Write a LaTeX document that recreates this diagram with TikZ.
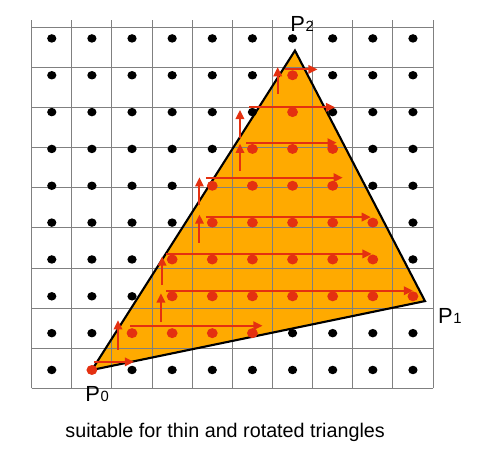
\documentclass[tikz,border=0pt]{standalone}
\usepackage{fontspec}
\setmainfont{Liberation Sans}
\usepackage{tikz}
\usetikzlibrary{arrows.meta}

\definecolor{triorange}{RGB}{255,170,0}
\definecolor{scanred}{RGB}{228,48,16}
\newcommand{\vsub}[1]{{\fontsize{10.5}{10.5}\selectfont\kern0.5pt #1}}

\begin{document}
\begin{tikzpicture}[x=1cm, y=0.918cm,
    gridline/.style={line width=0.7pt, black!50},
    pixdot/.style={fill=black},
    hitdot/.style={fill=scanred},
    scan/.style={scanred, line width=1.4pt, -{Triangle[length=6.5pt,width=6pt]}},
    lbl/.style={inner sep=0pt, font=\fontsize{15.5}{15.5}\selectfont}]
        % Margenes de la imagen
        \useasboundingbox (-0.79,-1.784) rectangle (11.42,10.543);

        % Vertices del triangulo
        \coordinate (P0) at (1.5,0.5);
        \coordinate (P1) at (9.80,2.37);
        \coordinate (P2) at (6.56,9.17);

        % Relleno del triangulo y rejilla de pixeles encima
        \fill[triorange] (P0) -- (P1) -- (P2) -- cycle;
        \draw[gridline] (0,0) grid (10,10);
        \draw[line width=1.5pt, line join=miter] (P0) -- (P1) -- (P2) -- cycle;

        % Centros de pixel
        \foreach \x in {0,...,9}
            \foreach \y in {0,...,9}
                \fill[pixdot] (\x+0.5,\y+0.5) circle (0.115);

        % Pixeles cubiertos (fila/primera/ultima columna)
        \foreach \r/\a/\b in {0/1/1, 1/2/5, 2/3/9, 3/3/8, 4/4/8, 5/4/7, 6/5/7, 7/6/6, 8/6/6}
            \foreach \c in {\a,...,\b}
                \fill[hitdot] (\c+0.5,\r+0.5) circle (0.135);

        % Recorrido horizontal de cada fila
        \foreach \y/\xa/\xb in {0.72/1.55/2.55, 1.70/2.45/5.75, 2.65/3.35/9.50,
                                3.65/3.35/8.47, 4.65/4.34/8.45, 5.72/4.34/7.75,
                                6.67/5.34/7.60, 7.63/5.42/7.56, 8.66/6.31/7.12}
            \draw[scan] (\xa,\y) -- (\xb,\y);

        % Subida a la fila siguiente por el borde izquierdo
        \foreach \x/\ya/\yb in {2.15/1.05/1.85, 3.22/1.80/2.58, 3.25/2.80/3.58,
                                4.18/3.96/4.72, 4.18/4.98/5.73, 5.19/5.90/6.64,
                                5.19/6.80/7.56, 6.13/8.00/8.72}
            \draw[scan] (\x,\ya) -- (\x,\yb);

        % Etiquetas de los vertices
        \node[lbl, anchor=base] (lblP2) at (6.74,9.68) {P\vsub{2}};
        \node[lbl, anchor=base west] (lblP1) at (10.12,1.76) {P\vsub{1}};
        \node[lbl, anchor=base west] (lblP0) at (1.33,-0.364) {P\vsub{0}};

        % Pie de figura
        \node[inner sep=0pt, anchor=base, font=\fontsize{14}{14}\selectfont] (caption) at (4.82,-1.33) {suitable for thin and rotated triangles};
    \end{tikzpicture}
\end{document}
